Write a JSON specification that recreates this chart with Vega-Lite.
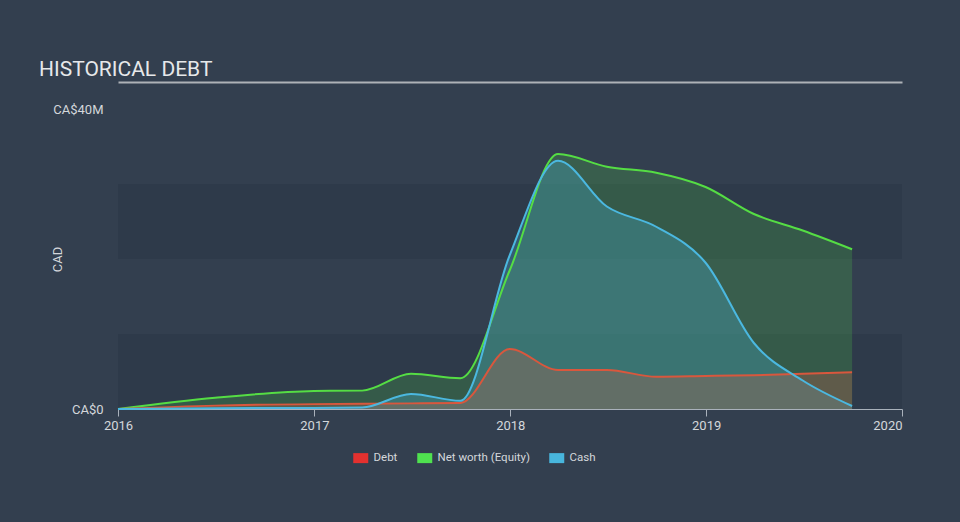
{
  "$schema": "https://vega.github.io/schema/vega-lite/v6.json",
  "width": 784,
  "height": 300,
  "autosize": "none",
  "padding": {"left": 118, "top": 109, "right": 58, "bottom": 113},
  "background": "#333f4f",
  "config": {
    "view": {"stroke": null},
    "font": "Roboto",
    "axisY": {
      "domain": false,
      "ticks": false,
      "grid": false,
      "labelPadding": 15,
      "labelFontSize": 13,
      "labelColor": "#d4d7db",
      "titleColor": "#d4d7db",
      "titleFontSize": 13,
      "titleFontWeight": "normal",
      "titleX": -61,
      "titleY": 150,
      "titleAngle": -90,
      "titleBaseline": "middle",
      "titleAlign": "center"
    }
  },
  "resolve": {"axis": {"x": "independent"}},
  "title": {
    "text": "HISTORICAL DEBT",
    "anchor": "start",
    "frame": "group",
    "dx": -79,
    "dy": 20,
    "offset": 5,
    "baseline": "alphabetic",
    "fontSize": 21,
    "fontWeight": "normal",
    "color": "#e6e8ea",
    "font": "Roboto"
  },
  "datasets": {
    "hist": [
      {"date": "2016-01-01T00:00:00", "debt": 0, "networth": 0, "cash": 0},
      {"date": "2016-06-30T00:00:00", "debt": 0.45, "networth": 1.5, "cash": 0.1},
      {"date": "2016-12-31T00:00:00", "debt": 0.65, "networth": 2.4, "cash": 0.15},
      {"date": "2017-03-31T00:00:00", "debt": 0.7, "networth": 2.45, "cash": 0.2},
      {"date": "2017-06-30T00:00:00", "debt": 0.75, "networth": 4.7, "cash": 2.0},
      {"date": "2017-09-30T00:00:00", "debt": 0.8, "networth": 4.1, "cash": 1.1},
      {"date": "2017-12-31T00:00:00", "debt": 8.0, "networth": 18.5, "cash": 20.5},
      {"date": "2018-03-31T00:00:00", "debt": 5.2, "networth": 34.0, "cash": 33.1},
      {"date": "2018-06-30T00:00:00", "debt": 5.2, "networth": 32.3, "cash": 27.0},
      {"date": "2018-09-30T00:00:00", "debt": 4.3, "networth": 31.5, "cash": 24.3},
      {"date": "2018-12-31T00:00:00", "debt": 4.4, "networth": 29.6, "cash": 19.5},
      {"date": "2019-03-31T00:00:00", "debt": 4.5, "networth": 26.0, "cash": 8.8},
      {"date": "2019-06-30T00:00:00", "debt": 4.7, "networth": 23.8, "cash": 3.8},
      {"date": "2019-09-30T00:00:00", "debt": 4.9, "networth": 21.3, "cash": 0.4}
    ],
    "series": [
      {"series": "Debt"},
      {"series": "Net worth (Equity)"},
      {"series": "Cash"}
    ]
  },
  "layer": [
    {
      "data": {"name": "hist"},
      "mark": {"type": "rect", "color": "#2e3a4a"},
      "encoding": {
        "y": {
          "datum": 0,
          "type": "quantitative",
          "title": "CAD",
          "scale": {"domain": [0, 40]},
          "axis": {"values": [0, 40], "labelExpr": "datum.value == 0 ? 'CA$0' : 'CA$40M'"}
        },
        "y2": {"datum": 10}
      }
    },
    {
      "data": {"name": "hist"},
      "mark": {"type": "rect", "color": "#2e3a4a"},
      "encoding": {
        "y": {"datum": 20, "type": "quantitative", "title": "CAD"},
        "y2": {"datum": 30}
      }
    },
    {
      "data": {"name": "hist"},
      "mark": {"type": "area", "interpolate": "monotone", "color": "#55dd44", "opacity": 0.2},
      "encoding": {
        "x": {
          "field": "date",
          "type": "temporal",
          "scale": {"domain": [{"year": 2016, "month": 1, "date": 1}, {"year": 2020, "month": 1, "date": 1}]},
          "axis": {"orient": "top", "offset": 27, "domainColor": "#aeb2b7", "domainWidth": 2, "ticks": false, "labels": false, "grid": false, "title": null}
        },
        "y": {"field": "networth", "type": "quantitative", "stack": null, "title": "CAD"}
      }
    },
    {
      "data": {"name": "hist"},
      "mark": {"type": "area", "interpolate": "monotone", "color": "#48b8e0", "opacity": 0.28},
      "encoding": {
        "x": {
          "field": "date",
          "type": "temporal",
          "axis": {
            "orient": "bottom",
            "format": "%Y",
            "tickCount": {"interval": "year", "step": 1},
            "domainColor": "#a9b1bb",
            "tickColor": "#a9b1bb",
            "tickSize": 7,
            "labelPadding": 3,
            "labelFontSize": 13,
            "labelColor": "#d4d7db",
            "labelFlush": false,
            "labelAlign": {"condition": {"test": "year(datum.value) == 2020", "value": "right"}, "value": "center"},
            "grid": false,
            "title": null
          }
        },
        "y": {"field": "cash", "type": "quantitative", "stack": null, "title": "CAD"}
      }
    },
    {
      "data": {"name": "hist"},
      "mark": {"type": "area", "interpolate": "monotone", "color": "#c0604c", "opacity": 0.3},
      "encoding": {
        "x": {"field": "date", "type": "temporal", "axis": null},
        "y": {"field": "debt", "type": "quantitative", "stack": null, "title": "CAD"}
      }
    },
    {
      "data": {"name": "hist"},
      "mark": {"type": "line", "interpolate": "monotone", "color": "#55dd44", "strokeWidth": 2},
      "encoding": {
        "x": {"field": "date", "type": "temporal", "axis": null},
        "y": {"field": "networth", "type": "quantitative", "title": "CAD"}
      }
    },
    {
      "data": {"name": "hist"},
      "mark": {"type": "line", "interpolate": "monotone", "color": "#d9573d", "strokeWidth": 2},
      "encoding": {
        "x": {"field": "date", "type": "temporal", "axis": null},
        "y": {"field": "debt", "type": "quantitative", "title": "CAD"}
      }
    },
    {
      "data": {"name": "hist"},
      "mark": {"type": "line", "interpolate": "monotone", "color": "#4bb8e0", "strokeWidth": 2},
      "encoding": {
        "x": {"field": "date", "type": "temporal", "axis": null},
        "y": {"field": "cash", "type": "quantitative", "title": "CAD"}
      }
    },
    {
      "data": {"name": "series"},
      "transform": [{"filter": "datum.series == 'none'"}],
      "mark": {"type": "point", "filled": true},
      "encoding": {
        "color": {
          "field": "series",
          "type": "nominal",
          "scale": {"domain": ["Debt", "Net worth (Equity)", "Cash"], "range": ["#e4312f", "#4fe14f", "#48b6dd"]},
          "legend": {
            "orient": "none",
            "legendX": 237,
            "legendY": 343,
            "direction": "horizontal",
            "title": null,
            "symbolType": "M-1.5,-1H1.5V1H-1.5Z",
            "symbolSize": 100,
            "symbolStrokeWidth": 0,
            "symbolOpacity": 1,
            "labelFontSize": 11.5,
            "labelColor": "#d4d7db",
            "labelOffset": 7,
            "columnPadding": 19,
            "padding": 0
          }
        }
      }
    }
  ]
}
